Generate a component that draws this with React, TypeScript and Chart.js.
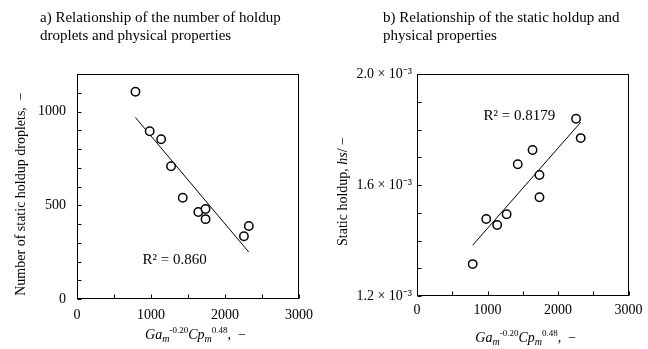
import React, { useEffect, useRef } from "react";
import { Chart, registerables } from "chart.js";

Chart.register(...registerables);

// ---- data ----
const xValues = [790, 982, 1137, 1271, 1429, 1639, 1737, 1737, 2256, 2322];
const dropletCounts = [1105, 895, 852, 708, 540, 464, 480, 426, 335, 389];
const staticHoldup = [
  1.315e-3, 1.4775e-3, 1.456e-3, 1.4945e-3, 1.6746e-3, 1.726e-3, 1.636e-3, 1.556e-3, 1.839e-3,
  1.769e-3,
];
const trendX = [790, 2322];
const dropletTrendY = [968, 250];
const holdupTrendY = [1.383e-3, 1.826e-3];
const xTickLabels = [0, 1000, 2000, 3000];
const dropletTickLabels = [0, 500, 1000];
const holdupTickLabels = [1.2e-3, 1.6e-3, 2.0e-3];
const r2Droplets = "R\u00b2 = 0.860";
const r2Holdup = "R\u00b2 = 0.8179";

const FONT = "'Liberation Serif', 'Times New Roman', serif";
Chart.defaults.font.family = FONT;
Chart.defaults.font.size = 14;
Chart.defaults.color = "#000";

type Part = { t: string; italic?: boolean; size?: number; dy?: number };

function drawParts(ctx: CanvasRenderingContext2D, parts: Part[], cx: number, y: number) {
  const fontOf = (p: Part) => `${p.italic ? "italic " : ""}${p.size ?? 14}px ${FONT}`;
  let total = 0;
  for (const p of parts) {
    ctx.font = fontOf(p);
    total += ctx.measureText(p.t).width;
  }
  let x = cx - total / 2;
  ctx.textAlign = "left";
  ctx.textBaseline = "alphabetic";
  for (const p of parts) {
    ctx.font = fontOf(p);
    ctx.fillText(p.t, x, y + (p.dy ?? 0));
    x += ctx.measureText(p.t).width;
  }
}

const xTitleParts: Part[] = [
  { t: "Ga", italic: true },
  { t: "m", italic: true, size: 10, dy: 3 },
  { t: "-0.20", size: 9, dy: -6 },
  { t: "Cp", italic: true },
  { t: "m", italic: true, size: 10, dy: 3 },
  { t: "0.48", size: 9, dy: -6 },
  { t: ",  \u2212" },
];

function makeDecor(opts: {
  title: string[];
  titleX: number;
  yTitle: Part[];
  yTitleX: number;
  yTitleOffset: number;
  xTitleOffset: number;
  xTitleY: number;
  r2: string;
  r2x: number;
  r2y: number;
}) {
  return {
    id: "decor",
    afterDraw(chart: any) {
      const { ctx, chartArea: a, scales } = chart;
      ctx.save();
      ctx.strokeStyle = "#000";
      ctx.lineWidth = 1;
      const l = Math.round(a.left) + 0.5;
      const t = Math.round(a.top) + 0.5;
      const r = Math.round(a.right) - 0.5;
      const b = Math.round(a.bottom) - 0.5;
      ctx.strokeRect(l, t, r - l, b - t);
      ctx.beginPath();
      for (const tk of scales.x.ticks) {
        const px = Math.round(scales.x.getPixelForValue(tk.value)) + 0.5;
        ctx.moveTo(px, b);
        ctx.lineTo(px, b - 4);
      }
      for (const tk of scales.y.ticks) {
        const py = Math.round(scales.y.getPixelForValue(tk.value)) + 0.5;
        ctx.moveTo(l, py);
        ctx.lineTo(l + 4, py);
      }
      ctx.stroke();

      ctx.fillStyle = "#000";
      // chart title
      ctx.font = `15px ${FONT}`;
      ctx.textAlign = "left";
      ctx.textBaseline = "alphabetic";
      opts.title.forEach((line, i) => ctx.fillText(line, opts.titleX, 22 + i * 18));

      // R2 label
      ctx.textAlign = "center";
      ctx.textBaseline = "middle";
      ctx.fillText(opts.r2, scales.x.getPixelForValue(opts.r2x), scales.y.getPixelForValue(opts.r2y));

      // x title
      drawParts(ctx, xTitleParts, (a.left + a.right) / 2 + opts.xTitleOffset, opts.xTitleY);

      // y title
      ctx.save();
      ctx.translate(opts.yTitleX, (a.top + a.bottom) / 2 + opts.yTitleOffset);
      ctx.rotate(-Math.PI / 2);
      drawParts(ctx, opts.yTitle, 0, 5);
      ctx.restore();
      ctx.restore();
    },
  };
}

function ScatterPanel(props: {
  left: number;
  yData: number[];
  trendY: number[];
  yMin: number;
  yMax: number;
  yStep: number;
  yLabels: number[];
  yFormat: (v: number) => string;
  yWidth: number;
  xHeight: number;
  padRight: number;
  yPad: number;
  xPad: number;
  decor: any;
}) {
  const ref = useRef<HTMLCanvasElement>(null);
  useEffect(() => {
    if (!ref.current) return;
    const isLabel = (v: number, arr: number[], step: number) =>
      arr.some((a) => Math.abs(a - v) < step / 100);
    const chart = new Chart(ref.current, {
      type: "scatter",
      data: {
        datasets: [
          {
            data: xValues.map((x, i) => ({ x, y: props.yData[i] })),
            pointStyle: "circle",
            pointRadius: 4.2,
            pointBorderWidth: 1.5,
            pointBorderColor: "#000",
            pointBackgroundColor: "#fff",
            showLine: false,
          },
          {
            data: trendX.map((x, i) => ({ x, y: props.trendY[i] })),
            showLine: true,
            borderColor: "#000",
            borderWidth: 1,
            pointRadius: 0,
          },
        ],
      },
      options: {
        responsive: false,
        animation: false,
        layout: { padding: { left: 0, right: props.padRight, top: 74, bottom: 0 } },
        plugins: { legend: { display: false }, tooltip: { enabled: false } },
        scales: {
          x: {
            type: "linear",
            min: 0,
            max: 3000,
            grid: { display: false, drawTicks: false },
            border: { display: false },
            ticks: {
              stepSize: 500,
              padding: props.xPad,
              maxRotation: 0,
              autoSkip: false,
              callback: (v: any) => (isLabel(Number(v), xTickLabels, 500) ? String(v) : ""),
            },
            afterFit: (s: any) => {
              s.height = props.xHeight;
            },
          },
          y: {
            type: "linear",
            min: props.yMin,
            max: props.yMax,
            grid: { display: false, drawTicks: false },
            border: { display: false },
            ticks: {
              stepSize: props.yStep,
              padding: props.yPad,
              autoSkip: false,
              callback: (v: any) =>
                isLabel(Number(v), props.yLabels, props.yStep) ? props.yFormat(Number(v)) : "",
            },
            afterFit: (s: any) => {
              s.width = props.yWidth;
            },
          },
        },
      },
      plugins: [props.decor],
    } as any);
    return () => chart.destroy();
  }, []);
  return (
    <div style={{ position: "absolute", left: props.left, top: 0, width: 324, height: 349 }}>
      <canvas ref={ref} width={324} height={349} />
    </div>
  );
}

const leftDecor = makeDecor({
  title: ["a) Relationship of the number of holdup", "droplets and physical properties"],
  titleX: 40,
  yTitle: [{ t: "Number of static holdup droplets,  \u2212" }],
  yTitleX: 20,
  yTitleOffset: 7.5,
  xTitleOffset: 7.5,
  xTitleY: 339,
  r2: r2Droplets,
  r2x: 1320,
  r2y: 210,
});

const rightDecor = makeDecor({
  title: ["b) Relationship of the static holdup and", "physical properties"],
  titleX: 59,
  yTitle: [{ t: "Static holdup, " }, { t: "hs", italic: true }, { t: "/ \u2212" }],
  yTitleX: 18,
  yTitleOffset: 6.5,
  xTitleOffset: 3,
  xTitleY: 342,
  r2: r2Holdup,
  r2x: 1453,
  r2y: 1.849e-3,
});

export default function App() {
  return (
    <div style={{ position: "absolute", left: 0, top: 0, width: 648, height: 349, background: "#fff" }}>
      <ScatterPanel
        left={0}
        yData={dropletCounts}
        trendY={dropletTrendY}
        yMin={0}
        yMax={1200}
        yStep={100}
        yLabels={dropletTickLabels}
        yFormat={(v) => String(v)}
        yWidth={77}
        xHeight={50}
        padRight={25}
        yPad={11}
        xPad={7.5}
        decor={leftDecor}
      />
      <ScatterPanel
        left={324}
        yData={staticHoldup}
        trendY={holdupTrendY}
        yMin={1.2e-3}
        yMax={2.0e-3}
        yStep={1e-4}
        yLabels={holdupTickLabels}
        yFormat={(v) => `${(v * 1000).toFixed(1)} \u00d7 10\u207b\u00b3`}
        yWidth={93}
        xHeight={53}
        padRight={15}
        yPad={5}
        xPad={5.5}
        decor={rightDecor}
      />
    </div>
  );
}
